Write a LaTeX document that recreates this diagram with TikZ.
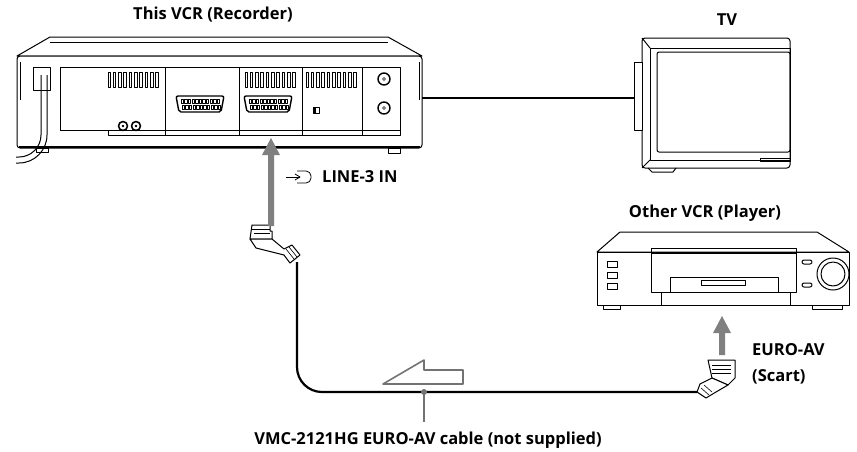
\documentclass[tikz,border=0pt]{standalone}
\usepackage{fontspec}
\setmainfont{Open Sans}
\begin{document}
\begin{tikzpicture}[x=1pt,y=-1pt,line join=round,
  lbl/.style={font=\fontsize{16.5}{18}\selectfont\bfseries,inner sep=0pt},
  ln/.style={line width=1pt},
  thick2/.style={line width=2pt},
  garrow/.style={draw=none,fill=black!50},
  hollow/.style={draw=black!55,line width=1.6pt,fill=white}]
\useasboundingbox (0,0) rectangle (857,451);
% ---------- This VCR ----------
\node[lbl] (vcrt) at (213,15) {This VCR (Recorder)};
\draw[ln,fill=white] (17,56) -- (50,37) -- (388,37) -- (422,56) -- cycle;
\draw[ln] (50,42) -- (388,42);
\draw[ln,fill=white,rounded corners=3] (17,56) rectangle (422,148);
\draw[line width=2.2pt] (19,147) -- (420,147);
\draw[ln] (20,62) -- (20,100) (419,62) -- (419,100);
\draw[ln] (33,67) rectangle (50,90);
\draw[ln] (60,67) rectangle (400,130);
\draw[ln] (60,130) -- (108,130) -- (108,135) -- (400,135) -- (400,130);
\foreach \x in {165,239,302,362} \draw[ln] (\x,67) -- (\x,135);
% vents
\foreach \s in {108,245,306} {
  \foreach \i in {0,...,9} \draw[line width=0.9pt] (\s+\i*5.3,72) rectangle ++(2.6,15);
}
% rca
\foreach \x in {123,136} {\draw[line width=1.6pt] (\x,126) circle (4.5); \fill (\x,126) circle (1.3);}
% scarts
\foreach \x in {176,244} {
  \draw[line width=1.4pt,rounded corners=2] (\x,96) -- (\x+48,96) -- (\x+45,112) -- (\x+3,112) -- cycle;
  \foreach \i in {0,...,10} {\draw[line width=0.5pt] (\x+5+\i*3.6,99) rectangle ++(2.4,4);
    \draw[line width=0.5pt] (\x+6+\i*3.6,105) rectangle ++(2.4,4);}
}
\draw[ln] (313,107) rectangle (319,113); \fill (313,107) rectangle (316,113);
% coax
\foreach \y in {79,108} {\draw[line width=1.4pt] (384,\y) circle (6); \draw (384,\y) circle (1.5);}
% feet
\draw[ln,fill=white] (36,148) rectangle (48,152);
\draw[ln,fill=white] (388,148) rectangle (400,153);
% power cord
\draw[ln] (41,75) -- (41,135) arc (0:90:22) -- (16,157);
\draw[ln] (47,75) -- (47,135) arc (0:90:28) -- (16,163);
% ---------- TV ----------
\node[lbl] (tvt) at (727,20) {TV};
\draw[ln,fill=white,rounded corners=3] (642,38) rectangle (790,168);
\draw[ln,fill=white] (634,62) -- (642,62) -- (642,130) -- (634,130) -- cycle;
\draw[ln] (650,48) rectangle (790,160);
\draw[ln,rounded corners=2] (657,52) rectangle (790,152);
\draw[ln] (642,38) -- (650,48) (642,168) -- (650,160);
\draw[ln] (760,158) rectangle (790,161);
\draw[ln] (648,168) -- (652,172) -- (673,172) -- (676,168);
\coordinate (tvin) at (634,98);
\coordinate (vcrout) at (422,98);
\draw[thick2] (vcrout) -- (tvin);
% ---------- Other VCR ----------
\node[lbl] (pvt) at (705,213) {Other VCR (Player)};
\draw[ln,fill=white] (597,252) -- (620,232) -- (817,232) -- (849,252) -- cycle;
\draw[ln,fill=white] (597,252) rectangle (849,305);
\draw[ln] (651,248) rectangle (796,292);
\draw[ln] (651,253) -- (796,253);
\draw[ln] (670,277) rectangle (778,292);
\draw[ln] (701,280) rectangle (745,285);
\draw[ln] (661,292) -- (661,305) (790,292) -- (790,305);
\foreach \y in {264,275,286} \draw[ln] (607,\y-3) rectangle ++(10,6);
\draw[ln,rounded corners=2] (802,260) rectangle ++(10,4) (802,283) rectangle ++(10,4);
\draw[ln] (833,274) circle (16) (833,274) circle (12);
\draw[ln,fill=white] (603,305) rectangle (620,309) (812,305) rectangle (842,309);
% ---------- plugs and cable ----------
\begin{scope}[shift={(262,235)}]
  \draw[ln,fill=white] (-10,-10) -- (8,-10) -- (8,-4) -- (10,-4) -- (10,4) -- (-12,4) -- cycle;
  \draw[ln] (-10,-6) -- (8,-6) (-8,-2) -- (8,-2);
  \draw[ln,fill=white] (-12,4) -- (10,4) -- (22,14) -- (30,10) -- (38,20) -- (28,28) -- (22,20) -- (-6,13) -- cycle;
  \draw[line width=0.6pt] (24,14) -- (32,24) (27,12) -- (35,22);
\end{scope}
\coordinate (p1) at (297,262);
\draw[ln,fill=white] (708,360) -- (735,360) -- (735,378) -- (728,385) -- (712,378) -- cycle;
\draw[ln] (712,365) -- (731,365) (712,369) -- (731,369) (712,373) -- (731,373);
\draw[ln,fill=white] (712,378) -- (700,384) -- (697,392) -- (706,398) -- (716,392) -- (728,385) -- cycle;
\draw[line width=0.6pt] (701,388) -- (709,395) (704,385) -- (712,392);
\coordinate (p2) at (697,392);
\draw[line width=2.2pt,rounded corners=25] (p1) -- (297,392) -- (p2);
% grey arrows
\fill[garrow] (268,226) -- (268,155) -- (262,155) -- (271,138) -- (280,155) -- (274,155) -- (274,226) -- cycle;
\fill[garrow] (719,355) -- (719,333) -- (713,333) -- (722,316) -- (731,333) -- (725,333) -- (725,355) -- cycle;
% labels
\node[lbl,anchor=west] (line3) at (322,177) {LINE-3 IN};
\draw[line width=0.8pt] (286,177) -- (300,177);
\draw[line width=0.8pt] (295,174) -- (300,177) -- (295,180);
\draw[line width=0.8pt,rounded corners=5] (297,171) -- (311,171) -- (311,183) -- (297,183);
\node[lbl,anchor=west] (euro) at (752,350) {EURO-AV};
\node[lbl,anchor=west] (scart) at (752,377) {(Scart)};
% hollow arrow
\draw[hollow] (383,384) -- (424,360) -- (424,370) -- (463,370) -- (463,384) -- cycle;
\coordinate (dot) at (424,392);
\fill[black!55] (dot) circle (3);
\node[lbl] (cap) at (428,440) {VMC-2121HG EURO-AV cable (not supplied)};
\draw[black!55,line width=1.6pt] (dot) -- (424,422);
\end{tikzpicture}
\end{document}
